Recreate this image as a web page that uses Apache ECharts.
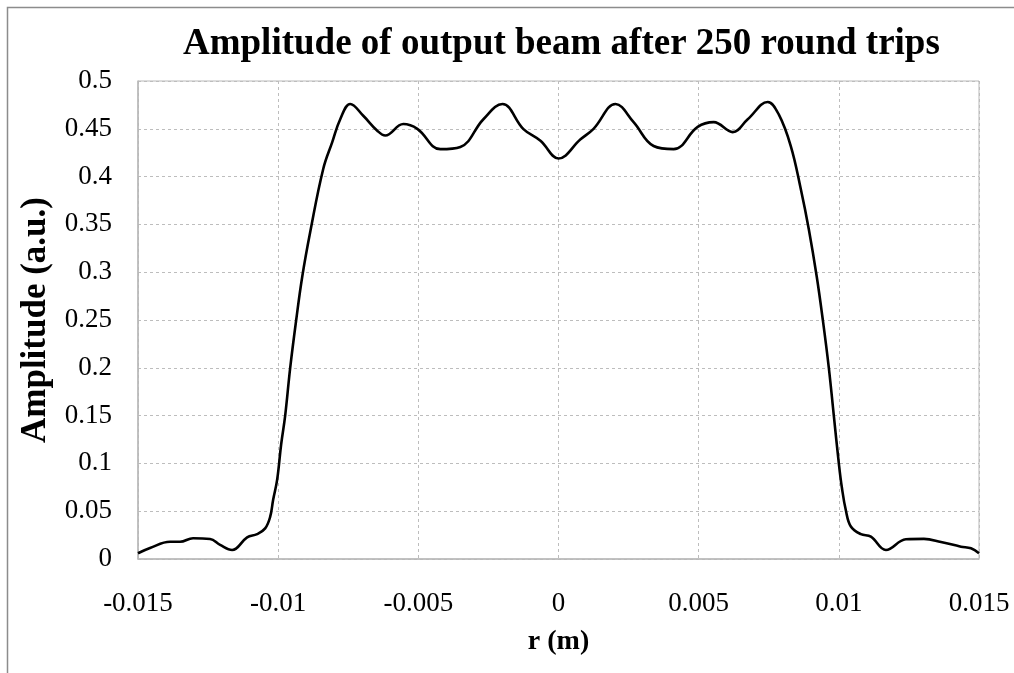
<!DOCTYPE html>
<html>
<head>
<meta charset="utf-8">
<script src="https://cdn.jsdelivr.net/npm/echarts@6/dist/echarts.min.js"></script>
<style>html,body{margin:0;padding:0;background:#fff;}#c{width:1014px;height:673px;}</style>
</head>
<body>
<div id="c"></div>
<script>
const rValues = [-0.015,-0.014571,-0.013857,-0.0135,-0.013036,-0.012429,-0.012071,-0.011643,-0.011107,-0.01075,-0.010464,-0.010286,-0.010179,-0.010036,-0.009893,-0.00975,-0.009571,-0.009357,-0.009143,-0.008857,-0.008393,-0.008071,-0.007786,-0.007429,-0.006964,-0.006464,-0.006179,-0.005536,-0.005036,-0.004214,-0.0035,-0.002679,-0.002,-0.00125,-0.000643,0,0.000786,0.00125,0.002036,0.002679,0.003393,0.004107,0.004964,0.005536,0.006214,0.00675,0.007464,0.007857,0.008286,0.008643,0.008929,0.009214,0.009429,0.009643,0.009821,0.01,0.010107,0.01025,0.010429,0.010786,0.011143,0.011679,0.012393,0.013036,0.013643,0.014357,0.014714,0.015];
const amplitude = [0.006,0.0115,0.018,0.018,0.0217,0.021,0.0147,0.0094,0.0227,0.026,0.032,0.044,0.062,0.083,0.12,0.15,0.2,0.25,0.295,0.342,0.408,0.436,0.46,0.476,0.4636,0.448,0.443,0.455,0.45,0.4287,0.431,0.46,0.476,0.4497,0.4375,0.419,0.439,0.45,0.476,0.457,0.432,0.4287,0.452,0.457,0.4465,0.46,0.478,0.465,0.432,0.387,0.345,0.295,0.25,0.2,0.15,0.1,0.075,0.051,0.034,0.026,0.0234,0.0094,0.0206,0.021,0.0178,0.0129,0.0112,0.006];
const titleText = 'Amplitude of output beam after 250 round trips';
const xName = 'r (m)';
const yName = 'Amplitude (a.u.)';

const chart = echarts.init(document.getElementById('c'));
const serif = '"Liberation Serif", "DejaVu Serif", serif';
chart.setOption({
  animation: false,
  backgroundColor: '#fff',
  graphic: [{
    type: 'rect', left: 5, top: 5, silent: true,
    shape: { width: 1100, height: 800 },
    style: { fill: 'none', stroke: '#8c8c8c', lineWidth: 1.5 }
  }],
  title: {
    text: titleText, left: 178, top: 21,
    textStyle: { fontFamily: serif, fontSize: 37, fontWeight: 'bold', color: '#000' }
  },
  grid: { left: 138, right: 35, top: 81, bottom: 114, show: true, borderColor: '#b8b8b8', borderWidth: 1 },
  xAxis: {
    type: 'value', min: -0.015, max: 0.015, interval: 0.005,
    name: xName, nameLocation: 'middle', nameGap: 69,
    nameTextStyle: { fontFamily: serif, fontSize: 28, fontWeight: 'bold', color: '#000' },
    axisLine: { show: true, onZero: false, lineStyle: { color: '#b8b8b8', width: 1.5 } },
    axisTick: { show: false },
    axisLabel: { fontFamily: serif, fontSize: 27, color: '#000', margin: 31 },
    splitLine: { show: true, lineStyle: { type: [3, 3], color: '#bdbdbd', width: 1 } }
  },
  yAxis: {
    type: 'value', min: 0, max: 0.5, interval: 0.05,
    name: yName, nameLocation: 'middle', nameGap: 76, nameRotate: 90,
    nameTextStyle: { fontFamily: serif, fontSize: 35, fontWeight: 'bold', color: '#000' },
    axisLine: { show: true, onZero: false, lineStyle: { color: '#b8b8b8', width: 1.5 } },
    axisTick: { show: false },
    axisLabel: { fontFamily: serif, fontSize: 27, color: '#000', margin: 26 },
    splitLine: { show: true, lineStyle: { type: [3, 3], color: '#bdbdbd', width: 1 } }
  },
  series: [{
    type: 'line',
    data: rValues.map((r, i) => [r, amplitude[i]]),
    showSymbol: false, smooth: 0.4,
    lineStyle: { color: '#000', width: 2.6 }
  }]
});
</script>
</body>
</html>
